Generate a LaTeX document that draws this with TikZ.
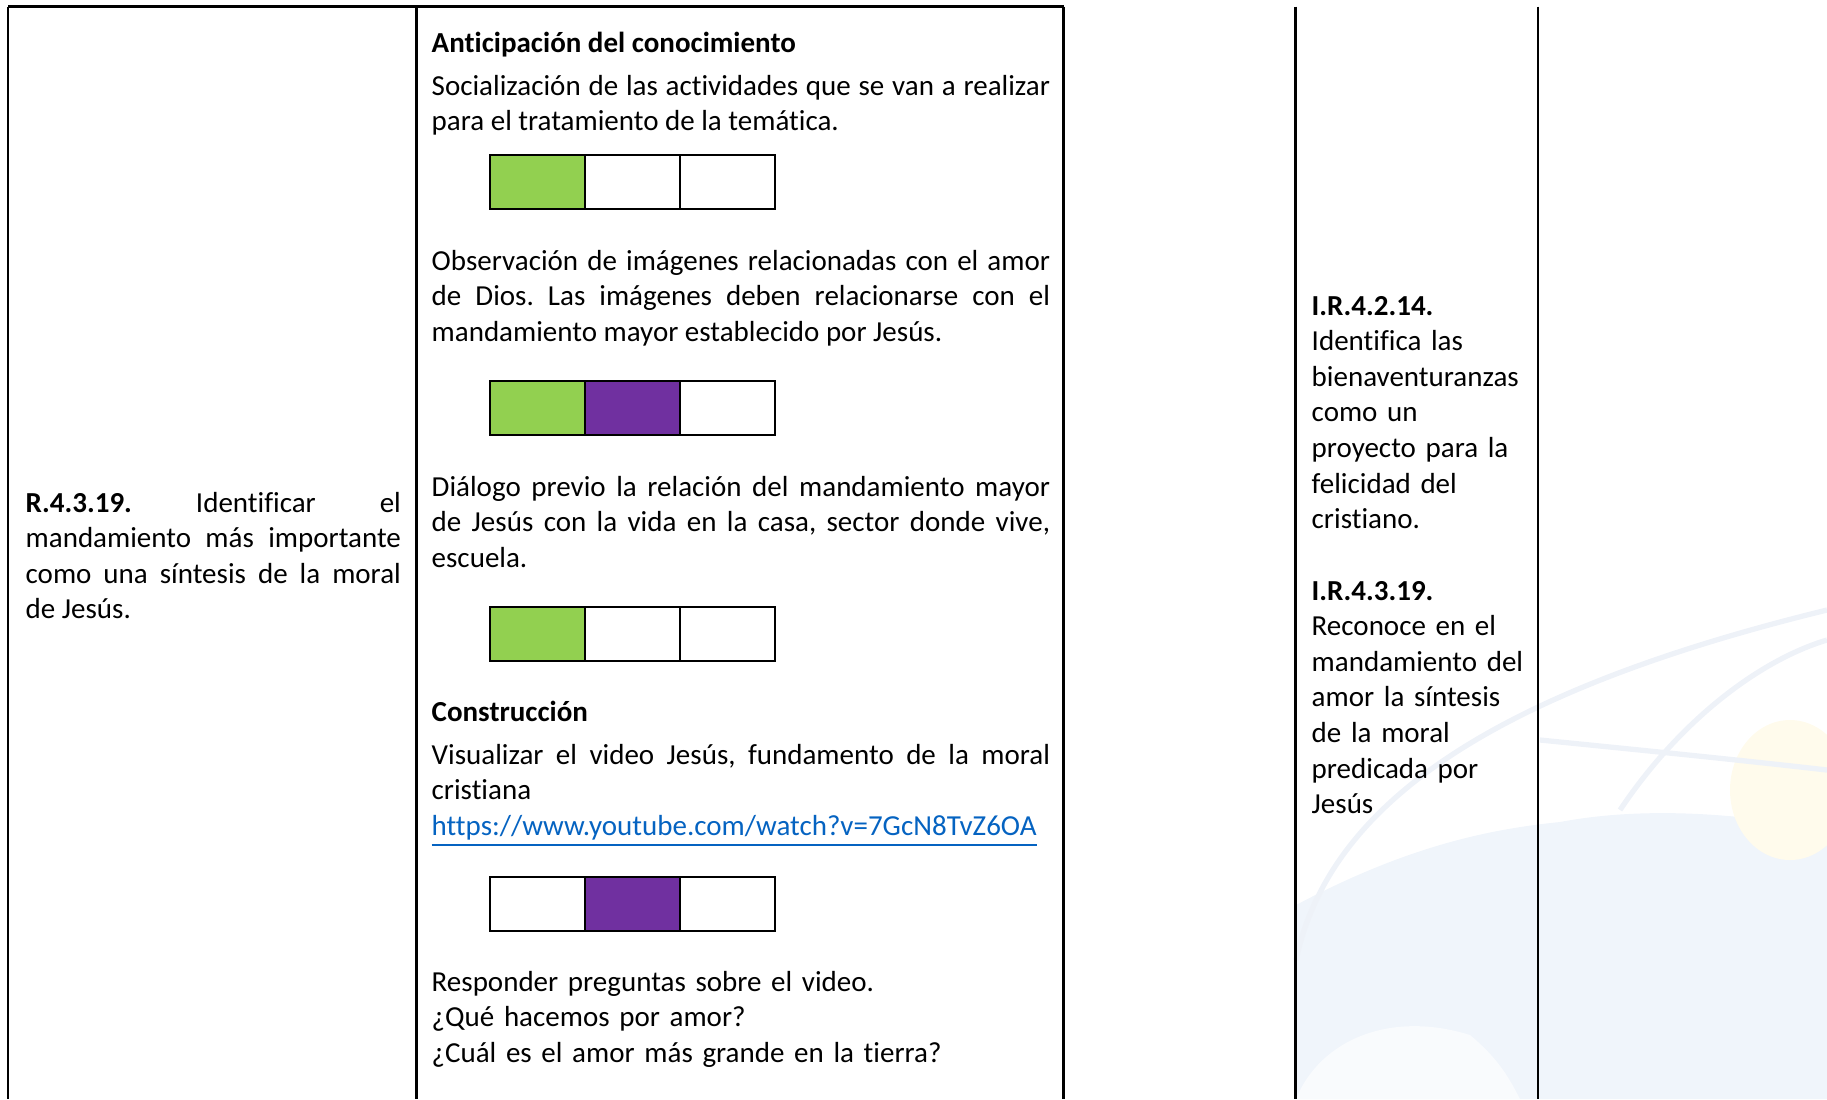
\documentclass[tikz,border=0pt]{standalone}
\usepackage{fontspec}
\setmainfont{Carlito}[Ligatures={NoCommon,NoContextual}]
\usepackage{xcolor}
\usetikzlibrary{positioning}
\definecolor{okgreen}{HTML}{92D050}
\definecolor{okpurple}{HTML}{7030A0}
\definecolor{linkblue}{HTML}{0563C1}
\definecolor{wmblue}{HTML}{F0F5FB}
\definecolor{wmyellow}{HTML}{FFFBEC}
\definecolor{wmarc}{HTML}{EEF2F8}
\frenchspacing

\begin{document}
\begin{tikzpicture}[x=0.01cm,y=-0.01cm,inner sep=0pt,
  rule/.style={line width=0.65pt},
  cell/.style={draw,line width=0.6pt,minimum width=0.95cm,minimum height=0.54cm},
  txt/.style={anchor=base west,font=\fontsize{8.25}{10.13}\selectfont}]
\useasboundingbox (0,0) rectangle (1827,1099);
% faint watermark on the right
\fill[wmblue] (1296,905) .. controls (1400,850) and (1480,830) .. (1560,822)
  .. controls (1650,805) and (1750,815) .. (1827,830) -- (1827,1099) -- (1296,1099) -- cycle;
\fill[white,opacity=0.6] (1296,1099) .. controls (1320,1040) and (1390,1010) .. (1470,1035)
  .. controls (1500,1060) and (1510,1080) .. (1520,1099) -- cycle;
\fill[wmyellow] (1790,790) ellipse (60 and 70);
\draw[wmarc,line width=1.5pt] (1296,960) .. controls (1330,800) and (1500,690) .. (1827,610);
\draw[wmarc,line width=1.5pt] (1540,740) .. controls (1640,750) and (1740,760) .. (1827,770);
\draw[wmarc,line width=1.5pt] (1620,810) .. controls (1680,720) and (1760,660) .. (1827,640);
% table rules
\draw[rule] (8,6.5) -- (1063.5,6.5);
\draw[rule] (8,6.5) -- (8,1099);
\draw[rule] (416.5,6.5) -- (416.5,1099);
\draw[rule] (1063.5,6.5) -- (1063.5,1099);
\draw[rule] (1295.5,6.5) -- (1295.5,1099);
\draw[rule] (1538,6.5) -- (1538,1099);
% first column
\node[txt,text width=3.75cm,align=justify] (res) at (25,512)
  {\textbf{R.4.3.19.} Identificar el\linebreak mandamiento más importante\linebreak como una síntesis de la moral\linebreak de Jesús.};
% second column
\node[txt] (ant) at (431,52) {\textbf{Anticipación del conocimiento}};
\node[txt,text width=6.18cm,align=justify] (soc) at (431,95)
  {Socialización de las actividades que se van a realizar\linebreak para el tratamiento de la temática.};
\node[cell,fill=okgreen] (s1) at (537.5,182) {};
\node[cell] (s2) at (632.5,182) {};
\node[cell] (s3) at (727.5,182) {};
\node[txt,text width=6.18cm,align=justify] (obs) at (431,270)
  {Observación de imágenes relacionadas con el amor\linebreak de Dios. Las imágenes deben relacionarse con el\linebreak mandamiento mayor establecido por Jesús.};
\node[cell,fill=okgreen] (o1) at (537.5,408) {};
\node[cell,fill=okpurple] (o2) at (632.5,408) {};
\node[cell] (o3) at (727.5,408) {};
\node[txt,text width=6.18cm,align=justify] (dia) at (431,496)
  {Diálogo previo la relación del mandamiento mayor\linebreak de Jesús con la vida en la casa, sector donde vive,\linebreak escuela.};
\node[cell,fill=okgreen] (d1) at (537.5,634) {};
\node[cell] (d2) at (632.5,634) {};
\node[cell] (d3) at (727.5,634) {};
\node[txt] (con) at (431,721) {\textbf{Construcción}};
\node[txt,text width=6.18cm,align=justify] (vis) at (431,764)
  {Visualizar el video Jesús, fundamento de la moral\linebreak cristiana\\
   {\color{linkblue}\underline{https://www.youtube.com/watch?v=7GcN8TvZ6OA}}};
\node[cell] (v1) at (537.5,904) {};
\node[cell,fill=okpurple] (v2) at (632.5,904) {};
\node[cell] (v3) at (727.5,904) {};
\node[txt,text width=6.18cm,align=left] (pre) at (431,991)
  {Responder preguntas sobre el video.\\ ¿Qué hacemos por amor?\\ ¿Cuál es el amor más grande en la tierra?};
% fourth column
\node[txt,text width=2.2cm,align=left] (ind1) at (1311,315)
  {\textbf{I.R.4.2.14.}\\ Identifica las\\ bienaventuranzas\\ como un\\ proyecto para la\\ felicidad del\\ cristiano.};
\node[txt,text width=2.2cm,align=left] (ind2) at (1311,600)
  {\textbf{I.R.4.3.19.}\\ Reconoce en el\\ mandamiento del\\ amor la síntesis\\ de la moral\\ predicada por\\ Jesús};
\end{tikzpicture}
\end{document}
